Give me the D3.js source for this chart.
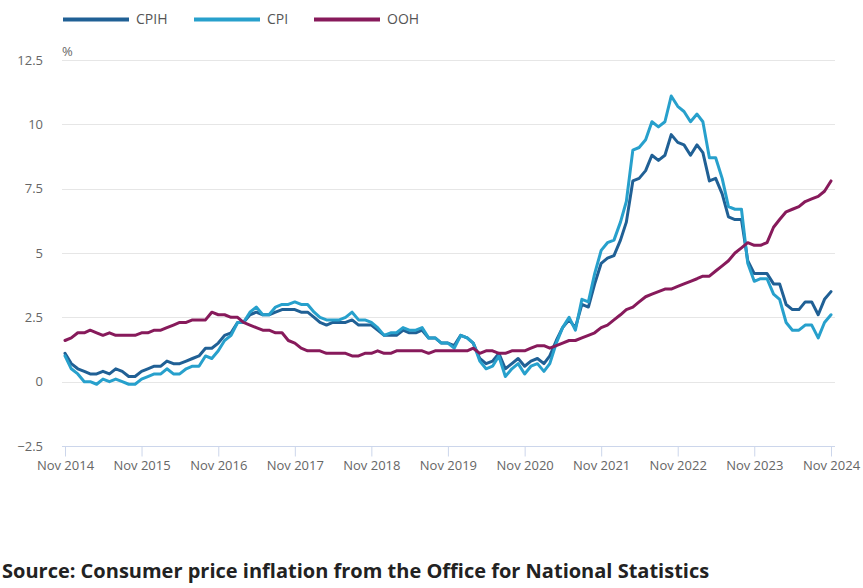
<!DOCTYPE html>
<html>
<head>
<meta charset="utf-8">
<script src="https://cdn.jsdelivr.net/npm/d3@7"></script>
<style>
  html, body { margin: 0; padding: 0; background: #fff; }
  svg { display: block; font-family: "Open Sans", sans-serif; }
</style>
</head>
<body>
<svg id="chart" width="863" height="588"></svg>
<script>
// ---- Data (monthly, Nov 2014 – Nov 2024) ----
const startMonth = "2014-11";
const seriesNames = ["CPIH", "CPI", "OOH"];
const seriesColors = ["#206095", "#27a0cc", "#871a5b"];

const cpih = [
  1.1, 0.7,
  0.5, 0.4, 0.3, 0.3, 0.4, 0.3, 0.5, 0.4, 0.2, 0.2, 0.4, 0.5,
  0.6, 0.6, 0.8, 0.7, 0.7, 0.8, 0.9, 1.0, 1.3, 1.3, 1.5, 1.8,
  1.9, 2.3, 2.3, 2.6, 2.7, 2.6, 2.6, 2.7, 2.8, 2.8, 2.8, 2.7,
  2.7, 2.5, 2.3, 2.2, 2.3, 2.3, 2.3, 2.4, 2.2, 2.2, 2.2, 2.0,
  1.8, 1.8, 1.8, 2.0, 1.9, 1.9, 2.0, 1.7, 1.7, 1.5, 1.5, 1.4,
  1.8, 1.7, 1.5, 0.9, 0.7, 0.8, 1.1, 0.5, 0.7, 0.9, 0.6, 0.8,
  0.9, 0.7, 1.0, 1.6, 2.1, 2.4, 2.1, 3.0, 2.9, 3.8, 4.6, 4.8,
  4.9, 5.5, 6.2, 7.8, 7.9, 8.2, 8.8, 8.6, 8.8, 9.6, 9.3, 9.2,
  8.8, 9.2, 8.9, 7.8, 7.9, 7.3, 6.4, 6.3, 6.3, 4.7, 4.2, 4.2,
  4.2, 3.8, 3.8, 3.0, 2.8, 2.8, 3.1, 3.1, 2.6, 3.2, 3.5
];
const cpi = [
  1.0, 0.5,
  0.3, 0.0, 0.0, -0.1, 0.1, 0.0, 0.1, 0.0, -0.1, -0.1, 0.1, 0.2,
  0.3, 0.3, 0.5, 0.3, 0.3, 0.5, 0.6, 0.6, 1.0, 0.9, 1.2, 1.6,
  1.8, 2.3, 2.3, 2.7, 2.9, 2.6, 2.6, 2.9, 3.0, 3.0, 3.1, 3.0,
  3.0, 2.7, 2.5, 2.4, 2.4, 2.4, 2.5, 2.7, 2.4, 2.4, 2.3, 2.1,
  1.8, 1.9, 1.9, 2.1, 2.0, 2.0, 2.1, 1.7, 1.7, 1.5, 1.5, 1.3,
  1.8, 1.7, 1.5, 0.8, 0.5, 0.6, 1.0, 0.2, 0.5, 0.7, 0.3, 0.6,
  0.7, 0.4, 0.7, 1.5, 2.1, 2.5, 2.0, 3.2, 3.1, 4.2, 5.1, 5.4,
  5.5, 6.2, 7.0, 9.0, 9.1, 9.4, 10.1, 9.9, 10.1, 11.1, 10.7, 10.5,
  10.1, 10.4, 10.1, 8.7, 8.7, 7.9, 6.8, 6.7, 6.7, 4.6, 3.9, 4.0,
  4.0, 3.4, 3.2, 2.3, 2.0, 2.0, 2.2, 2.2, 1.7, 2.3, 2.6
];
const ooh = [
  1.6, 1.7,
  1.9, 1.9, 2.0, 1.9, 1.8, 1.9, 1.8, 1.8, 1.8, 1.8, 1.9, 1.9,
  2.0, 2.0, 2.1, 2.2, 2.3, 2.3, 2.4, 2.4, 2.4, 2.7, 2.6, 2.6,
  2.5, 2.5, 2.3, 2.2, 2.1, 2.0, 2.0, 1.9, 1.9, 1.6, 1.5, 1.3,
  1.2, 1.2, 1.2, 1.1, 1.1, 1.1, 1.1, 1.0, 1.0, 1.1, 1.1, 1.2,
  1.1, 1.1, 1.2, 1.2, 1.2, 1.2, 1.2, 1.1, 1.2, 1.2, 1.2, 1.2,
  1.2, 1.2, 1.3, 1.1, 1.2, 1.2, 1.1, 1.1, 1.2, 1.2, 1.2, 1.3,
  1.4, 1.4, 1.3, 1.4, 1.5, 1.6, 1.6, 1.7, 1.8, 1.9, 2.1, 2.2,
  2.4, 2.6, 2.8, 2.9, 3.1, 3.3, 3.4, 3.5, 3.6, 3.6, 3.7, 3.8,
  3.9, 4.0, 4.1, 4.1, 4.3, 4.5, 4.7, 5.0, 5.2, 5.4, 5.3, 5.3,
  5.4, 6.0, 6.3, 6.6, 6.7, 6.8, 7.0, 7.1, 7.2, 7.4, 7.8
];
const yTicks = [-2.5, 0, 2.5, 5, 7.5, 10, 12.5];
const xTickLabels = ["Nov 2014","Nov 2015","Nov 2016","Nov 2017","Nov 2018","Nov 2019",
                     "Nov 2020","Nov 2021","Nov 2022","Nov 2023","Nov 2024"];
const unitLabel = "%";
const sourceText = "Source: Consumer price inflation from the Office for National Statistics";

// ---- Layout ----
const svg = d3.select("#chart");
const plot = { left: 62, right: 835, top: 60, bottom: 446 };

const parseMonth = d3.timeParse("%Y-%m");
const start = parseMonth(startMonth);
const dates = cpih.map((_, i) => d3.timeMonth.offset(start, i));

const x = d3.scaleTime()
  .domain([dates[0], dates[dates.length - 1]])
  .range([65, 831]);
const y = d3.scaleLinear()
  .domain([-2.5, 12.5])
  .range([plot.bottom, plot.top]);

// gridlines
svg.append("g")
  .selectAll("line")
  .data(yTicks.filter(d => d !== -2.5))
  .join("line")
  .attr("x1", plot.left).attr("x2", plot.right)
  .attr("y1", d => Math.round(y(d)) + 0.5).attr("y2", d => Math.round(y(d)) + 0.5)
  .attr("stroke", "#e6e6e6").attr("stroke-width", 1);

// y labels
svg.append("g")
  .selectAll("text")
  .data(yTicks)
  .join("text")
  .attr("x", 43)
  .attr("y", d => y(d))
  .attr("dy", "0.35em")
  .attr("text-anchor", "end")
  .attr("font-size", 13)
  .attr("fill", "#666")
  .text(d => d3.format("")(d));

svg.append("text")
  .attr("x", 62).attr("y", 56)
  .attr("font-size", 13).attr("fill", "#666")
  .text(unitLabel);

// x axis
const tickDates = xTickLabels.map((_, i) => d3.timeMonth.offset(start, i * 12));
const xAxis = d3.axisBottom(x)
  .tickValues(tickDates)
  .tickSize(10)
  .tickSizeOuter(0)
  .tickFormat((d, i) => xTickLabels[i]);
const gx = svg.append("g")
  .attr("transform", `translate(0,${Math.round(y(-2.5)) + 0.5})`)
  .call(xAxis);
gx.select(".domain").attr("stroke", "#ccd6eb").attr("d", `M${plot.left},0H${plot.right}`);
gx.selectAll(".tick line").attr("stroke", "#ccd6eb");
gx.selectAll(".tick text")
  .attr("font-family", "Open Sans, sans-serif")
  .attr("font-size", 13)
  .attr("fill", "#666")
  .attr("y", 14);

// lines
const line = d3.line()
  .x((d, i) => x(dates[i]))
  .y(d => y(d));
const allSeries = [cpih, cpi, ooh];
svg.append("g")
  .selectAll("path")
  .data(allSeries)
  .join("path")
  .attr("d", d => line(d))
  .attr("fill", "none")
  .attr("stroke", (d, i) => seriesColors[i])
  .attr("stroke-width", 3)
  .attr("stroke-linejoin", "round")
  .attr("stroke-linecap", "round");

// legend
const legendX = [63, 194, 314];
const lg = svg.append("g").selectAll("g")
  .data(seriesNames)
  .join("g")
  .attr("transform", (d, i) => `translate(${legendX[i]},19.5)`);
lg.append("line")
  .attr("x1", 0).attr("x2", 66)
  .attr("stroke", (d, i) => seriesColors[i])
  .attr("stroke-width", 4);
lg.append("text")
  .attr("x", 73).attr("dy", "0.35em")
  .attr("font-size", 14).attr("fill", "#555")
  .text(d => d);

// source
svg.append("text")
  .attr("x", 2).attr("y", 578)
  .attr("font-size", 20).attr("font-weight", "bold").attr("fill", "#222")
  .text(sourceText);
</script>
</body>
</html>
